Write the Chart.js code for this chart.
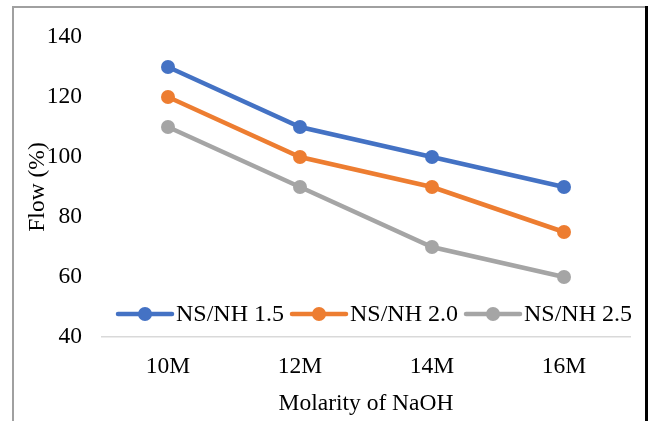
<!DOCTYPE html>
<html>
<head>
<meta charset="utf-8">
<script src="https://cdn.jsdelivr.net/npm/chart.js@4/dist/chart.umd.min.js"></script>
<style>
  html, body { margin: 0; padding: 0; background: #fff; }
  #wrap { position: relative; width: 649px; height: 421px; }
  canvas { display: block; }
</style>
</head>
<body>
<div id="wrap"><canvas id="c" width="649" height="421"></canvas></div>
<script>
const categories = ['10M', '12M', '14M', '16M'];
const seriesNames = ['NS/NH 1.5', 'NS/NH 2.0', 'NS/NH 2.5'];
const ns15 = [130, 110, 100, 90];
const ns20 = [120, 100, 90, 75];
const ns25 = [110, 90, 70, 60];
const colors = ['#4472C4', '#ED7D31', '#A5A5A5'];
const xTitle = 'Molarity of NaOH';
const yTitle = 'Flow (%)';
const yMin = 40, yMax = 140, yStep = 20;

const FONT = "'Liberation Serif', 'Times New Roman', serif";

const frame = {
  id: 'frame',
  beforeDraw(chart) {
    const ctx = chart.ctx;
    ctx.save();
    ctx.fillStyle = '#fff';
    ctx.fillRect(0, 0, chart.width, chart.height);
    ctx.strokeStyle = '#A0A0A0';
    ctx.lineWidth = 2;
    ctx.beginPath();
    ctx.moveTo(13, 421);
    ctx.lineTo(13, 7);
    ctx.lineTo(646, 7);
    ctx.stroke();
    ctx.strokeStyle = '#000';
    ctx.lineWidth = 3;
    ctx.beginPath();
    ctx.moveTo(646.5, 6);
    ctx.lineTo(646.5, 421);
    ctx.stroke();
    ctx.restore();
  }
};

const overlayLegend = {
  id: 'overlayLegend',
  afterDatasetsDraw(chart) {
    const ctx = chart.ctx;
    ctx.save();
    ctx.font = '24px ' + FONT;
    ctx.textBaseline = 'middle';
    ctx.textAlign = 'left';
    let x = 118;
    const y = 314;
    chart.data.datasets.forEach(ds => {
      const c = ds.borderColor;
      ctx.strokeStyle = c;
      ctx.lineWidth = 4.5;
      ctx.lineCap = 'round';
      ctx.beginPath();
      ctx.moveTo(x, y);
      ctx.lineTo(x + 54, y);
      ctx.stroke();
      ctx.fillStyle = c;
      ctx.beginPath();
      ctx.arc(x + 27, y, 7, 0, Math.PI * 2);
      ctx.fill();
      ctx.fillStyle = '#000';
      const tx = x + 58;
      ctx.fillText(ds.label, tx, y + 1);
      x = tx + ctx.measureText(ds.label).width + 8;
    });
    ctx.restore();
  }
};

const allSeries = [ns15, ns20, ns25];
new Chart(document.getElementById('c'), {
  type: 'line',
  data: {
    labels: categories,
    datasets: allSeries.map((d, i) => ({
      label: seriesNames[i],
      data: d,
      borderColor: colors[i],
      backgroundColor: colors[i],
      borderWidth: 4.5,
      pointRadius: 7,
      pointHoverRadius: 7,
      pointBorderWidth: 0,
      tension: 0,
      fill: false
    }))
  },
  options: {
    responsive: false,
    animation: false,
    devicePixelRatio: 1,
    layout: { padding: { left: 0, right: 19, top: 37, bottom: 0 } },
    plugins: {
      legend: { display: false },
      tooltip: { enabled: false }
    },
    scales: {
      x: {
        offset: true,
        grid: { display: false, drawTicks: false },
        border: { display: true, color: '#D9D9D9', width: 1.5 },
        ticks: { color: '#000', font: { family: FONT, size: 23.5 }, padding: 16 },
        title: { display: true, text: xTitle, color: '#000', font: { family: FONT, size: 23.5 }, padding: { top: 4, bottom: 3 } },
        afterFit(s) { s.height = 84; }
      },
      y: {
        min: yMin, max: yMax,
        grid: { display: false, drawTicks: false },
        border: { display: false },
        ticks: { stepSize: yStep, color: '#000', font: { family: FONT, size: 23.5 }, padding: 20 },
        title: { display: true, text: yTitle, color: '#000', font: { family: FONT, size: 23.5 }, padding: { top: 24, bottom: 0 } },
        afterFit(s) { s.width = 102; }
      }
    }
  },
  plugins: [frame, overlayLegend]
});
</script>
</body>
</html>
